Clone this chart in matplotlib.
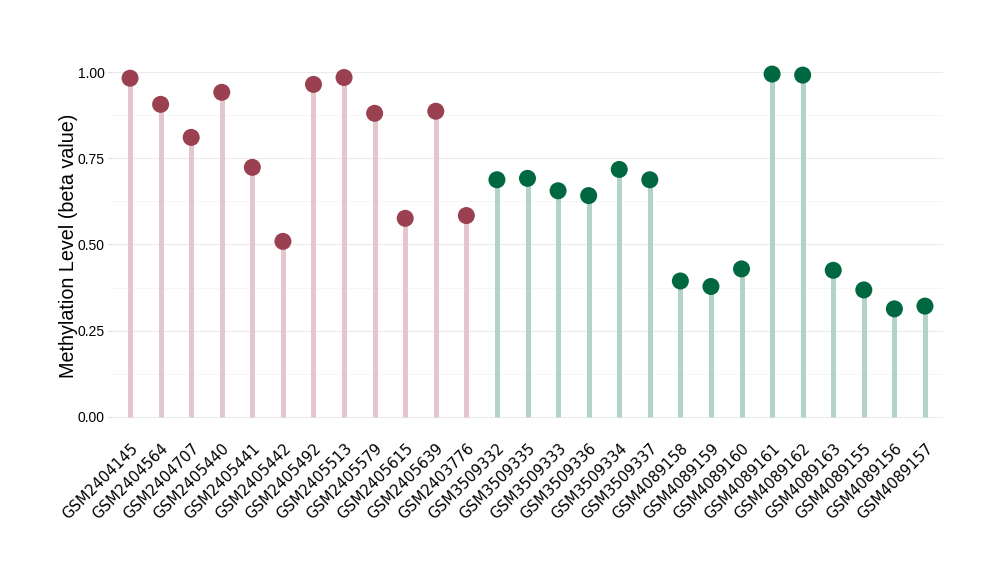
import matplotlib
matplotlib.use("Agg")
import matplotlib.pyplot as plt
import numpy as np

samples = ["GSM2404145", "GSM2404564", "GSM2404707", "GSM2405440", "GSM2405441",
           "GSM2405442", "GSM2405492", "GSM2405513", "GSM2405579", "GSM2405615",
           "GSM2405639", "GSM2403776", "GSM3509332", "GSM3509335", "GSM3509333",
           "GSM3509336", "GSM3509334", "GSM3509337", "GSM4089158", "GSM4089159",
           "GSM4089160", "GSM4089161", "GSM4089162", "GSM4089163", "GSM4089155",
           "GSM4089156", "GSM4089157"]
beta = [0.983, 0.907, 0.811, 0.942, 0.724, 0.509, 0.965, 0.985, 0.881, 0.576,
        0.887, 0.584, 0.688, 0.692, 0.656, 0.642, 0.718, 0.688, 0.394, 0.378,
        0.429, 0.995, 0.992, 0.425, 0.368, 0.313, 0.321]
group = ["A"] * 12 + ["B"] * 15

dot_col = {"A": "#9B4050", "B": "#006841"}
stem_col = {"A": "#E3C7CC", "B": "#B3D3C7"}

fig = plt.figure(figsize=(10, 5.8), dpi=100)
ax = fig.add_axes([0.1117, 0.252, 0.8316, 0.65])

x = np.arange(len(samples))
for xi, v, g in zip(x, beta, group):
    ax.plot([xi, xi], [0, v], color=stem_col[g], lw=3.6, solid_capstyle="butt", zorder=2)
ax.scatter(x, beta, s=150, c=[dot_col[g] for g in group], zorder=3, linewidths=0)

ax.set_xlim(-0.6, len(samples) - 0.4)
ax.set_ylim(-0.05, 1.045)
ax.set_yticks([0, 0.25, 0.5, 0.75, 1.0])
ax.set_yticklabels(["0.00", "0.25", "0.50", "0.75", "1.00"], fontsize=10,
                   family="Liberation Sans")
ax.set_yticks([0.125, 0.375, 0.625, 0.875], minor=True)
ax.set_xticks(x)
ax.set_xticklabels(samples, rotation=45, ha="right", rotation_mode="anchor",
                   fontsize=10.7, family="DejaVu Sans")
ax.grid(axis="y", which="major", color="#EBEBEB", lw=0.8, zorder=0)
ax.grid(axis="y", which="minor", color="#F5F5F5", lw=0.6, zorder=0)
ax.tick_params(axis="y", which="major", length=3, color="#DDDDDD", pad=2)
ax.tick_params(axis="y", which="minor", length=0)
ax.tick_params(axis="x", length=0, pad=5)
for s in ax.spines.values():
    s.set_visible(False)
ax.set_ylabel("Methylation Level (beta value)", fontsize=14.2, family="Liberation Sans",
              labelpad=0)

fig.savefig("out.png", dpi=100)
